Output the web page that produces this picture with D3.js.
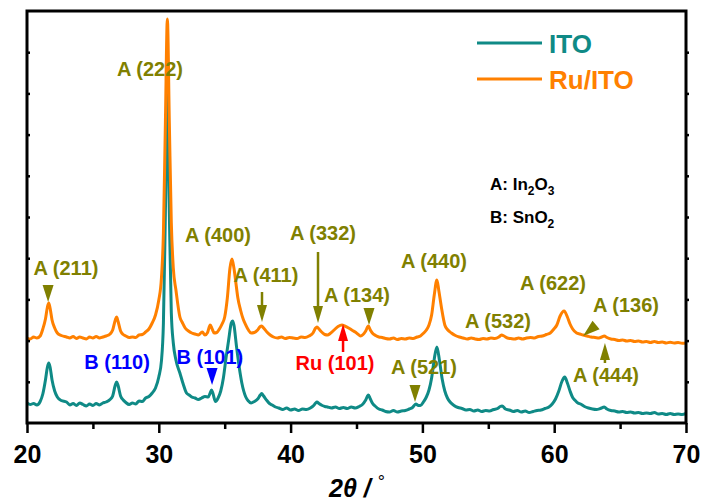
<!DOCTYPE html>
<html>
<head>
<meta charset="utf-8">
<script src="https://cdn.jsdelivr.net/npm/d3@7"></script>
<style>
  body { margin: 0; background: #fff; }
  svg { font-family: "Liberation Sans", Arial, sans-serif; font-weight: bold; }
</style>
</head>
<body>
<script>
// XRD patterns, [2theta (deg), intensity (a.u.)]
const itoData = [
  [20.0, 200], [20.25, 185], [20.5, 195], [20.75, 180], [21.0, 215], [21.2, 290], [21.4, 430],
  [21.55, 560], [21.65, 600], [21.75, 560], [21.9, 430], [22.1, 320], [22.3, 260], [22.6, 225],
  [23.0, 210], [23.25, 180], [23.5, 195], [23.75, 175], [24.0, 200], [24.25, 185], [24.5, 170],
  [24.75, 190], [25.0, 175], [25.25, 195], [25.5, 180], [25.75, 200], [26.0, 210], [26.3, 235],
  [26.5, 270], [26.7, 380], [26.8, 410], [26.9, 380], [27.1, 270], [27.3, 230], [27.5, 205],
  [27.75, 185], [28.0, 200], [28.25, 190], [28.5, 220], [28.75, 215], [29.0, 250], [29.25, 265],
  [29.5, 300], [29.75, 350], [30.0, 460], [30.2, 620], [30.35, 1000], [30.5, 2100], [30.65, 3280],
  [30.8, 2100], [30.95, 1100], [31.1, 800], [31.3, 630], [31.6, 500], [31.85, 390], [32.1, 300],
  [32.3, 280], [32.5, 260], [32.75, 250], [33.0, 235], [33.25, 250], [33.5, 265], [33.75, 260],
  [33.9, 300], [34.0, 330], [34.1, 300], [34.3, 215], [34.5, 250], [34.7, 320], [34.9, 450],
  [35.1, 650], [35.3, 830], [35.5, 1000], [35.6, 1020], [35.7, 980], [35.9, 760], [36.1, 560],
  [36.3, 400], [36.6, 260], [36.8, 220], [37.0, 200], [37.25, 215], [37.5, 240], [37.7, 280],
  [37.8, 295], [37.95, 270], [38.2, 225], [38.4, 195], [38.6, 180], [38.85, 160], [39.1, 150],
  [39.4, 135], [39.7, 150], [40.0, 130], [40.3, 140], [40.6, 125], [40.9, 140], [41.2, 135],
  [41.5, 150], [41.75, 175], [41.9, 200], [42.0, 210], [42.15, 195], [42.4, 175], [42.6, 165],
  [42.8, 160], [43.1, 150], [43.4, 160], [43.7, 145], [44.0, 155], [44.3, 145], [44.6, 160],
  [44.9, 150], [45.2, 165], [45.45, 185], [45.7, 230], [45.9, 280], [46.05, 240], [46.2, 200],
  [46.45, 165], [46.7, 140], [46.95, 130], [47.2, 115], [47.5, 110], [47.8, 125], [48.1, 110],
  [48.4, 120], [48.7, 125], [49.0, 140], [49.25, 155], [49.5, 190], [49.7, 175], [49.85, 175],
  [50.1, 215], [50.3, 260], [50.5, 330], [50.7, 450], [50.9, 640], [51.1, 760], [51.3, 620],
  [51.5, 440], [51.7, 320], [51.9, 250], [52.1, 210], [52.4, 175], [52.7, 155], [53.0, 145],
  [53.3, 130], [53.6, 135], [53.9, 120], [54.2, 130], [54.5, 115], [54.8, 125], [55.1, 120],
  [55.4, 135], [55.7, 145], [55.9, 165], [56.05, 170], [56.3, 140], [56.6, 130], [56.9, 115],
  [57.2, 125], [57.5, 110], [57.8, 120], [58.1, 105], [58.4, 115], [58.7, 125], [59.0, 130],
  [59.3, 145], [59.6, 160], [59.85, 190], [60.1, 240], [60.35, 320], [60.6, 420], [60.8, 460],
  [61.0, 400], [61.2, 320], [61.4, 255], [61.6, 225], [61.8, 200], [62.0, 190], [62.3, 165],
  [62.6, 150], [62.9, 140], [63.2, 135], [63.5, 145], [63.8, 160], [64.0, 140], [64.3, 125],
  [64.6, 120], [64.9, 110], [65.2, 115], [65.5, 105], [65.8, 110], [66.1, 100], [66.4, 105],
  [66.7, 95], [67.0, 100], [67.3, 95], [67.6, 105], [67.9, 90], [68.2, 95], [68.5, 85],
  [68.8, 95], [69.1, 85], [69.4, 90], [69.7, 85], [70.0, 95]
];

const ruItoData = [
  [20.0, 850], [20.25, 840], [20.5, 860], [20.75, 850], [21.0, 870], [21.2, 940], [21.4, 1040],
  [21.55, 1160], [21.65, 1200], [21.75, 1150], [21.9, 1030], [22.1, 950], [22.3, 900], [22.6, 875],
  [23.0, 860], [23.25, 850], [23.5, 865], [23.75, 845], [24.0, 860], [24.25, 850], [24.5, 840],
  [24.75, 860], [25.0, 850], [25.25, 865], [25.5, 850], [25.75, 860], [26.0, 870], [26.3, 890],
  [26.5, 930], [26.7, 1030], [26.8, 1060], [26.9, 1020], [27.1, 920], [27.3, 885], [27.5, 870],
  [27.75, 855], [28.0, 860], [28.25, 855], [28.5, 880], [28.75, 885], [29.0, 910], [29.25, 940],
  [29.5, 1000], [29.75, 1080], [30.0, 1230], [30.2, 1450], [30.35, 1900], [30.5, 3000], [30.65, 4040],
  [30.8, 3000], [30.95, 2000], [31.1, 1550], [31.3, 1330], [31.6, 1060], [31.8, 1000], [32.0, 950],
  [32.25, 920], [32.5, 900], [32.75, 890], [33.0, 880], [33.3, 910], [33.5, 880], [33.7, 905],
  [33.9, 980], [34.05, 940], [34.2, 900], [34.4, 905], [34.6, 940], [34.8, 990], [35.0, 1060],
  [35.2, 1250], [35.4, 1550], [35.55, 1640], [35.7, 1550], [35.85, 1400], [36.0, 1250], [36.2, 1130],
  [36.4, 1040], [36.6, 980], [36.8, 930], [37.0, 900], [37.25, 905], [37.5, 930], [37.7, 965],
  [37.8, 970], [37.95, 950], [38.2, 910], [38.45, 880], [38.7, 860], [39.0, 850], [39.3, 860],
  [39.6, 845], [39.9, 855], [40.2, 850], [40.5, 845], [40.8, 860], [41.1, 855], [41.4, 870],
  [41.7, 900], [41.9, 950], [42.0, 960], [42.15, 940], [42.4, 905], [42.6, 885], [42.8, 880],
  [43.0, 895], [43.3, 930], [43.6, 965], [43.9, 980], [44.1, 970], [44.4, 950], [44.7, 925],
  [44.9, 910], [45.1, 890], [45.3, 870], [45.5, 885], [45.7, 920], [45.9, 970], [46.05, 930],
  [46.2, 900], [46.45, 875], [46.7, 860], [46.95, 855], [47.2, 845], [47.5, 840], [47.8, 850],
  [48.1, 835], [48.4, 845], [48.7, 840], [49.0, 850], [49.3, 845], [49.6, 860], [49.85, 870],
  [50.1, 900], [50.3, 930], [50.5, 980], [50.7, 1080], [50.9, 1280], [51.1, 1430], [51.25, 1320],
  [51.45, 1150], [51.7, 980], [51.9, 935], [52.2, 900], [52.5, 875], [52.8, 860], [53.1, 850],
  [53.4, 840], [53.7, 850], [54.0, 840], [54.3, 835], [54.6, 845], [54.9, 840], [55.2, 850],
  [55.5, 845], [55.8, 860], [56.0, 880], [56.2, 870], [56.45, 850], [56.7, 845], [57.0, 840],
  [57.3, 850], [57.6, 840], [57.9, 850], [58.2, 855], [58.5, 850], [58.8, 865], [59.1, 870],
  [59.4, 885], [59.7, 900], [59.95, 935], [60.2, 980], [60.45, 1070], [60.75, 1120], [61.0, 1060],
  [61.2, 990], [61.4, 940], [61.7, 900], [61.95, 890], [62.2, 880], [62.5, 870], [62.8, 860],
  [63.1, 855], [63.4, 850], [63.6, 860], [63.8, 870], [64.0, 855], [64.3, 840], [64.6, 835],
  [64.9, 825], [65.2, 830], [65.5, 820], [65.8, 825], [66.1, 815], [66.4, 820], [66.7, 810],
  [67.0, 815], [67.3, 805], [67.6, 815], [67.9, 805], [68.2, 810], [68.5, 800], [68.8, 808],
  [69.1, 800], [69.4, 805], [69.7, 798], [70.0, 800]
];

const xMajorTicks = [20, 30, 40, 50, 60, 70];
const xMinorTicks = [25, 35, 45, 55, 65];

// peak labels: text centre (2theta, intensity); mark: tri = filled triangle, arrow = line + head
const peakLabels = [
  { text: 'A (222)', x: 29.33, y: 3470, c: 'A' },
  { text: 'A (211)', x: 22.96, y: 1480, c: 'A', mark: 'tri', mx: 21.6, my: 1210, dir: 'down' },
  { text: 'B (110)', x: 26.83, y: 540, c: 'B' },
  { text: 'B (101)', x: 33.88, y: 590, c: 'B', mark: 'tri', mx: 34.04, my: 380, dir: 'down' },
  { text: 'A (400)', x: 34.49, y: 1810, c: 'A' },
  { text: 'A (332)', x: 42.46, y: 1830, c: 'A', mark: 'arrow', mx: 42.08, my: 1000, from: 1710 },
  { text: 'A (411)', x: 38.13, y: 1410, c: 'A', mark: 'arrow', mx: 37.83, my: 1010, from: 1310 },
  { text: 'A (134)', x: 45.04, y: 1210, c: 'A', mark: 'tri', mx: 45.95, my: 980, dir: 'down' },
  { text: 'Ru (101)', x: 43.37, y: 530, c: 'Ru', mark: 'arrow', mx: 43.98, my: 990, from: 710 },
  { text: 'A (440)', x: 50.88, y: 1550, c: 'A' },
  { text: 'A (521)', x: 50.12, y: 490, c: 'A', mark: 'tri', mx: 49.44, my: 210, dir: 'down' },
  { text: 'A (532)', x: 55.74, y: 950, c: 'A' },
  { text: 'A (622)', x: 59.91, y: 1330, c: 'A' },
  { text: 'A (136)', x: 65.45, y: 1110, c: 'A', mark: 'tri', mx: 62.19, my: 870, dir: 'downleft' },
  { text: 'A (444)', x: 63.93, y: 410, c: 'A', mark: 'arrow', mx: 63.85, my: 800, from: 600 }
];

const colors = { ito: '#0f8a86', ru: '#ff8000', A: '#808000', B: '#0000ff', Ru: '#ff0000' };

const w = 704, h = 501;
const m = { left: 27, right: 686, top: 11, bottom: 423 };

const svg = d3.select('body').append('svg')
  .attr('width', w)
  .attr('height', h);

const xScale = d3.scaleLinear().domain([20, 70]).range([m.left, m.right]);
const yScale = d3.scaleLinear().domain([0, 4120]).range([m.bottom, m.top]);
const yTicks = d3.range(412, 4120, 412);

// curves
const line = d3.line()
  .x(d => xScale(d[0]))
  .y(d => yScale(d[1]))
  .curve(d3.curveMonotoneX);

svg.append('path')
  .datum(itoData)
  .attr('d', line)
  .attr('fill', 'none')
  .attr('stroke', colors.ito)
  .attr('stroke-width', 3)
  .attr('stroke-linejoin', 'round');

svg.append('path')
  .datum(ruItoData)
  .attr('d', line)
  .attr('fill', 'none')
  .attr('stroke', colors.ru)
  .attr('stroke-width', 3)
  .attr('stroke-linejoin', 'round');

// peak labels and markers
peakLabels.forEach(function(p) {
  const col = colors[p.c];
  svg.append('text')
    .attr('x', xScale(p.x))
    .attr('y', yScale(p.y))
    .attr('text-anchor', 'middle')
    .attr('font-size', 20)
    .attr('fill', col)
    .text(p.text);

  if (!p.mark) return;
  const tx = xScale(p.mx), ty = yScale(p.my);
  if (p.mark === 'tri') {
    let rot = 0;
    if (p.dir === 'downleft') rot = 50;
    svg.append('path')
      .attr('d', 'M0,0 L-5.5,-17 L5.5,-17 Z')
      .attr('transform', `translate(${tx},${ty}) rotate(${rot})`)
      .attr('fill', col);
  } else {
    const fy = yScale(p.from);
    const sign = fy < ty ? 1 : -1; // 1 = pointing down
    svg.append('line')
      .attr('x1', tx).attr('x2', tx)
      .attr('y1', fy).attr('y2', ty - sign * 12)
      .attr('stroke', col)
      .attr('stroke-width', 2.5);
    svg.append('path')
      .attr('d', `M${tx},${ty} L${tx - 5},${ty - sign * 17} L${tx + 5},${ty - sign * 17} Z`)
      .attr('fill', col);
  }
});

// axes
const xAxis = svg.append('g')
  .attr('transform', `translate(0,${m.bottom})`)
  .call(d3.axisBottom(xScale).tickValues(xMajorTicks).tickSize(10).tickPadding(12).tickFormat(d3.format('d')));
xAxis.selectAll('text').attr('font-size', 25).attr('font-family', '"Liberation Sans", Arial, sans-serif').attr('font-weight', 'bold').attr('fill', '#000');

svg.append('g')
  .attr('transform', `translate(0,${m.bottom})`)
  .call(d3.axisBottom(xScale).tickValues(xMinorTicks).tickSize(6).tickFormat(''));

svg.append('g')
  .attr('transform', `translate(${m.left},0)`)
  .call(d3.axisLeft(yScale).tickValues(yTicks).tickSize(-3).tickFormat(''));

svg.append('g')
  .attr('transform', `translate(${m.right},0)`)
  .call(d3.axisRight(yScale).tickValues(yTicks).tickSize(3).tickFormat(''));

svg.selectAll('.domain').remove();
svg.selectAll('.tick line').attr('stroke', '#000').attr('stroke-width', 2.5);

svg.append('rect')
  .attr('x', m.left).attr('y', m.top)
  .attr('width', m.right - m.left).attr('height', m.bottom - m.top)
  .attr('fill', 'none')
  .attr('stroke', '#000')
  .attr('stroke-width', 3);

// axis title
const xt = svg.append('text')
  .attr('x', 357).attr('y', 497)
  .attr('text-anchor', 'middle')
  .attr('font-size', 25)
  .attr('fill', '#000');
xt.append('tspan').attr('font-style', 'italic').text('2θ');
xt.append('tspan').attr('font-style', 'italic').text(' / ');
xt.append('tspan').attr('font-size', 18).attr('dy', -9).attr('font-weight', 'normal').text('°');

// legend
const legend = [{ name: 'ITO', col: colors.ito, y: 43 }, { name: 'Ru/ITO', col: colors.ru, y: 79 }];
legend.forEach(function(l) {
  svg.append('line')
    .attr('x1', 477).attr('x2', 542)
    .attr('y1', l.y).attr('y2', l.y)
    .attr('stroke', l.col).attr('stroke-width', 3);
  svg.append('text')
    .attr('x', 549).attr('y', l.y + 9.5)
    .attr('font-size', 26)
    .attr('fill', l.col)
    .text(l.name);
});

// phase key
const k1 = svg.append('text').attr('x', 490).attr('y', 190).attr('font-size', 17).attr('fill', '#000');
k1.append('tspan').text('A: In');
k1.append('tspan').attr('font-size', 12).attr('dy', 5).text('2');
k1.append('tspan').attr('dy', -5).text('O');
k1.append('tspan').attr('font-size', 12).attr('dy', 5).text('3');

const k2 = svg.append('text').attr('x', 490).attr('y', 223).attr('font-size', 17).attr('fill', '#000');
k2.append('tspan').text('B: SnO');
k2.append('tspan').attr('font-size', 12).attr('dy', 5).text('2');
</script>
</body>
</html>
